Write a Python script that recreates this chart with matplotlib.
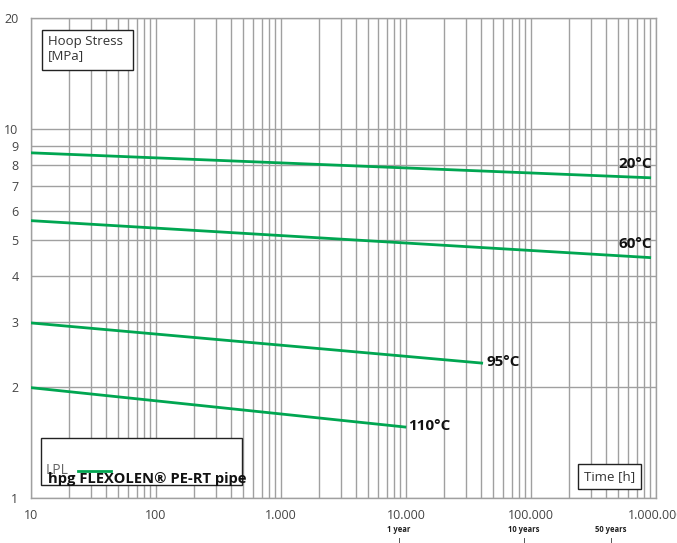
import numpy as np
import matplotlib
matplotlib.use('Agg')
from matplotlib import pyplot as plt
from matplotlib.patches import Rectangle

plt.rcParams['font.family'] = ['Open Sans', 'DejaVu Sans']

# curves: start / end of each temperature line (hours, MPa)
t20 = [10, 890000]
s20 = [8.61, 7.37]
t60 = [10, 890000]
s60 = [5.64, 4.48]
t95 = [10, 40300]
s95 = [2.98, 2.32]
t110 = [10, 9800]
s110 = [1.99, 1.557]
curve_labels = ['20°C', '60°C', '95°C', '110°C']

x_ticks = [10, 100, 1000, 10000, 100000, 1000000]
x_labels = ['10', '100', '1.000', '10.000', '100.000', '1.000.000']
y_ticks = [1, 2, 3, 4, 5, 6, 7, 8, 9, 10, 20]
y_labels = ['1', '2', '3', '4', '5', '6', '7', '8', '9', '10', '20']
years = [8760, 87600, 438000]
year_labels = ['1 year', '10 years', '50 years']

green = '#00a651'
grid_c = '#a0a0a0'
W, H = 677, 543

fig = plt.figure(figsize=(W / 100, H / 100), dpi=100)
ax = fig.add_axes([31 / W, 1 - 498 / H, (656 - 31) / W, (498 - 17.7) / H])
ax.set_xscale('log')
ax.set_yscale('log')
ax.set_xlim(10, 1e6)
ax.set_ylim(1, 20)

# grid: every minor decade line on x, 1..10 on y
for dec in range(1, 6):
    for m in range(1, 10):
        ax.axvline(m * 10 ** dec, color=grid_c, lw=1, zorder=1)
ax.axvline(1e6, color=grid_c, lw=1, zorder=1)
for v in y_ticks:
    ax.axhline(v, color=grid_c, lw=1, zorder=1)

for s in ax.spines.values():
    s.set_color(grid_c)
    s.set_linewidth(1)

ax.set_xticks(x_ticks)
ax.set_xticklabels(x_labels)
ax.set_yticks(y_ticks)
ax.set_yticklabels(y_labels)
ax.minorticks_off()
ax.tick_params(length=0, labelsize=9, labelcolor='#444444')
ax.tick_params(axis='y', pad=9)
ax.tick_params(axis='x', pad=8)

ax.plot(t20, s20, color=green, lw=2, zorder=3)
ax.plot(t60, s60, color=green, lw=2, zorder=3)
ax.plot(t95, s95, color=green, lw=2, zorder=3)
ax.plot(t110, s110, color=green, lw=2, zorder=3)

ends = [(t20[-1], s20[-1]), (t60[-1], s60[-1]), (t95[-1], s95[-1]), (t110[-1], s110[-1])]
offs = [(-31, 14), (-31, 14), (5, 1), (3, 1)]
for lab, (x, y), (dx, dy) in zip(curve_labels, ends, offs):
    ax.annotate(lab, (x, y), xytext=(dx, dy), textcoords='offset pixels',
                fontsize=11, fontweight='bold', color='#111111', va='center', ha='left')

# years under the axis
tr = ax.get_xaxis_transform()
for yv, yl in zip(years, year_labels):
    ax.text(yv, -0.066, yl, transform=tr, fontsize=5.5, fontweight='bold',
            ha='center', va='center', color='#222222')
    ax.plot([yv, yv], [-0.083, -0.095], transform=tr, color='#555555', lw=0.7, clip_on=False)


def box(x0, y0, x1, y1):
    fig.patches.append(Rectangle((x0 / W, 1 - y1 / H), (x1 - x0) / W, (y1 - y0) / H,
                                 transform=fig.transFigure, facecolor='white',
                                 edgecolor='#222222', lw=1, zorder=5))


box(42, 30, 133, 70)
fig.text(48 / W, 1 - 35 / H, 'Hoop Stress\n[MPa]', fontsize=9.5, color='#333333',
         va='top', ha='left', linespacing=1.1, zorder=6)

box(578, 464, 641, 489)
fig.text(609.5 / W, 1 - 476.5 / H, 'Time [h]', fontsize=9.5, color='#333333',
         va='center', ha='center', zorder=6)

box(41, 438, 242, 485)
fig.text(46 / W, 1 - 470 / H, 'LPL', fontsize=10, color='#666666',
         va='center', ha='left', zorder=6)
fig.lines.append(plt.Line2D([78 / W, 111 / W], [1 - 471 / H, 1 - 471 / H],
                            transform=fig.transFigure, color=green, lw=2, zorder=6))
fig.text(48 / W, 1 - 483 / H, 'hpg FLEXOLEN® PE-RT pipe', fontsize=10.6,
         fontweight='bold', color='#111111', va='baseline', ha='left', zorder=7)

fig.savefig('out.png', dpi=100)
